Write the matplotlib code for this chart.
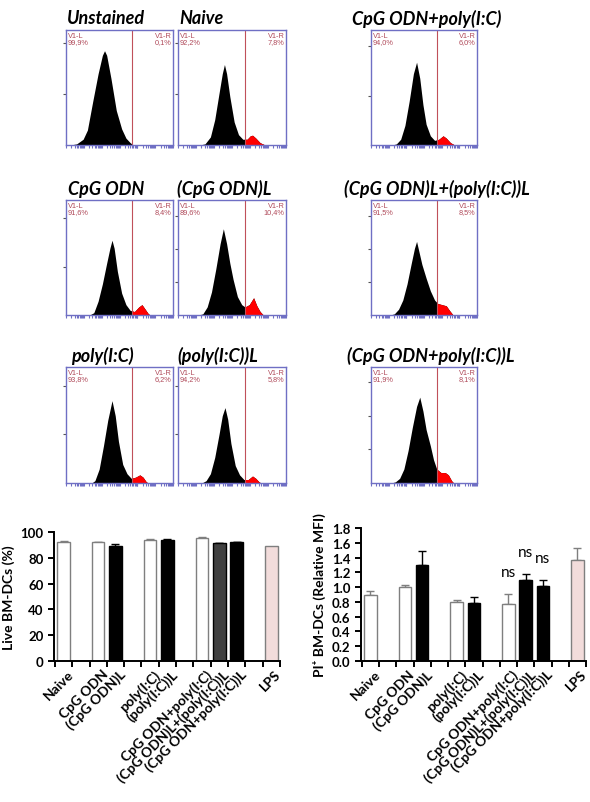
import matplotlib
matplotlib.use('Agg')
import matplotlib.pyplot as plt
from matplotlib.patches import Rectangle
import numpy as np

plt.rcParams['font.family'] = ['Lato', 'DejaVu Sans']

W, H = 590, 803

# flow histograms, envelope points: (x as fraction of the 6-decade axis, height as fraction of axis)
unstained = [(0.04, 0), (0.10, 0.01), (0.16, 0.05), (0.20, 0.13), (0.25, 0.38), (0.30, 0.62), (0.34, 0.78),
             (0.36, 0.82), (0.38, 0.78), (0.42, 0.58), (0.47, 0.30), (0.52, 0.14), (0.56, 0.06), (0.60, 0.02), (0.63, 0)]
naive = [(0.20, 0), (0.25, 0.01), (0.30, 0.07), (0.34, 0.22), (0.38, 0.45), (0.41, 0.62), (0.43, 0.70), (0.45, 0.62),
         (0.48, 0.42), (0.52, 0.20), (0.56, 0.09), (0.60, 0.05), (0.64, 0.05), (0.67, 0.08), (0.69, 0.085),
         (0.72, 0.06), (0.76, 0.02), (0.80, 0.003), (0.83, 0)]
cpg_poly = [(0.20, 0), (0.24, 0.01), (0.28, 0.05), (0.32, 0.17), (0.36, 0.38), (0.40, 0.62), (0.43, 0.72),
            (0.46, 0.58), (0.49, 0.35), (0.52, 0.18), (0.56, 0.08), (0.60, 0.04), (0.64, 0.05), (0.68, 0.08),
            (0.71, 0.06), (0.75, 0.02), (0.79, 0)]
cpg = [(0.22, 0), (0.26, 0.02), (0.30, 0.12), (0.34, 0.27), (0.38, 0.45), (0.41, 0.58), (0.43, 0.65), (0.45, 0.58),
       (0.48, 0.38), (0.52, 0.19), (0.56, 0.09), (0.60, 0.04), (0.64, 0.03), (0.68, 0.07), (0.71, 0.09),
       (0.74, 0.05), (0.77, 0.01), (0.79, 0)]
cpg_l = [(0.19, 0), (0.23, 0.01), (0.27, 0.07), (0.31, 0.20), (0.35, 0.40), (0.39, 0.62), (0.42, 0.75),
         (0.45, 0.62), (0.48, 0.45), (0.51, 0.31), (0.55, 0.16), (0.59, 0.09), (0.62, 0.07), (0.66, 0.09),
         (0.70, 0.15), (0.73, 0.08), (0.76, 0.03), (0.79, 0)]
cpg_l_poly_l = [(0.18, 0), (0.22, 0.01), (0.26, 0.05), (0.30, 0.13), (0.34, 0.27), (0.38, 0.45), (0.41, 0.58),
                (0.43, 0.64), (0.45, 0.56), (0.48, 0.44), (0.52, 0.32), (0.56, 0.21), (0.60, 0.13), (0.63, 0.10),
                (0.67, 0.09), (0.71, 0.08), (0.74, 0.04), (0.77, 0.005), (0.79, 0)]
poly = [(0.24, 0), (0.27, 0.02), (0.31, 0.12), (0.35, 0.32), (0.39, 0.54), (0.43, 0.71), (0.46, 0.58),
        (0.49, 0.36), (0.53, 0.16), (0.57, 0.08), (0.61, 0.04), (0.65, 0.05), (0.69, 0.07), (0.72, 0.05),
        (0.75, 0.01), (0.77, 0)]
poly_l = [(0.22, 0), (0.26, 0.02), (0.30, 0.08), (0.34, 0.22), (0.38, 0.42), (0.41, 0.58), (0.435, 0.65),
          (0.46, 0.55), (0.49, 0.34), (0.53, 0.15), (0.57, 0.07), (0.61, 0.03), (0.65, 0.03), (0.69, 0.06),
          (0.72, 0.04), (0.75, 0.01), (0.77, 0)]
cpg_poly_l = [(0.19, 0), (0.23, 0.01), (0.27, 0.04), (0.31, 0.12), (0.35, 0.28), (0.39, 0.48), (0.43, 0.66),
              (0.46, 0.74), (0.49, 0.62), (0.52, 0.46), (0.56, 0.32), (0.59, 0.20), (0.62, 0.12), (0.66, 0.09),
              (0.70, 0.09), (0.73, 0.07), (0.76, 0.02), (0.78, 0)]

hist_titles = ['Unstained', 'Naive', 'CpG ODN+poly(I:C)',
               'CpG ODN', '(CpG ODN)L', '(CpG ODN)L+(poly(I:C))L',
               'poly(I:C)', '(poly(I:C))L', '(CpG ODN+poly(I:C))L']
hist_data = [unstained, naive, cpg_poly, cpg, cpg_l, cpg_l_poly_l, poly, poly_l, cpg_poly_l]
gate_left = ['99,9%', '92,2%', '94,0%', '91,6%', '89,6%', '91,5%', '93,8%', '94,2%', '91,9%']
gate_right = ['0,1%', '7,8%', '6,0%', '8,4%', '10,4%', '8,5%', '6,2%', '5,8%', '8,1%']
ytick_step = [0.445, 0.445, 0.43, 0.42, 0.286, 0.286, 0.42, 0.42, 0.29]
gate_pos = 0.62

# bar charts
groups = ['Naive', 'CpG ODN', '(CpG ODN)L', 'poly(I:C)', '(poly(I:C))L',
          'CpG ODN+poly(I:C)', '(CpG ODN)L+(poly(I:C))L', '(CpG ODN+poly(I:C))L', 'LPS']
live = [92.5, 92.2, 89.5, 94.0, 93.8, 95.0, 91.2, 92.0, 89.5]
live_err = [0.4, 0.2, 1.0, 0.3, 0.5, 0.8, 0.3, 0.3, 0.0]
pi_mfi = [0.89, 1.00, 1.30, 0.80, 0.79, 0.77, 1.10, 1.02, 1.37]
pi_err = [0.06, 0.03, 0.19, 0.03, 0.07, 0.14, 0.08, 0.08, 0.16]
ns_idx = [5, 6, 7]

slots = [0, 2, 3, 5, 6, 8, 9, 10, 12]
live_colors = ['white', 'white', 'black', 'white', 'black', 'white', '#404040', 'black', '#f2dcdb']
pi_colors = ['white', 'white', 'black', 'white', 'black', 'white', 'black', 'black', '#f2dcdb']

SPINE = '#6f6fc4'
GATE_TXT = '#b04a5a'


def px_axes(fig, l, t, r, b):
    return fig.add_axes([l / W, 1 - b / H, (r - l) / W, (b - t) / H])


def draw_hist(ax, pts, step, lpct, rpct):
    x = np.array([p[0] for p in pts])
    y = np.array([p[1] for p in pts])
    ax.fill_between(x, 0, y, color='black', lw=0)
    red = ax.fill_between(x, 0, y, color='#ff0000', lw=0)
    clip = Rectangle((gate_pos, 0), 1 - gate_pos, 1, transform=ax.transData)
    red.set_clip_path(clip)
    ax.axvline(gate_pos, color='#c0505a', lw=0.8)
    ax.set_xlim(0, 1)
    ax.set_ylim(0, 1)
    xt = [(d + np.log10(k)) / 6 for d in range(6) for k in range(1, 10)] + [1.0]
    ax.set_xticks(xt)
    ax.set_xticklabels([])
    yt = [step * i for i in range(1, 4) if step * i < 0.97]
    ax.set_yticks(yt)
    ax.set_yticklabels([])
    ax.tick_params(axis='x', colors=SPINE, length=2.5, width=0.8, direction='out')
    ax.tick_params(axis='y', colors='#555555', length=2, width=0.8, direction='out')
    for s in ax.spines.values():
        s.set_color(SPINE)
        s.set_linewidth(1.0)
    ax.text(0.015, 0.985, 'V1-L\n' + lpct, transform=ax.transAxes, ha='left', va='top',
            fontsize=5.3, color=GATE_TXT, linespacing=0.9, family=['Liberation Sans', 'DejaVu Sans'])
    ax.text(0.985, 0.985, 'V1-R\n' + rpct, transform=ax.transAxes, ha='right', va='top',
            fontsize=5.3, color=GATE_TXT, linespacing=0.9, family=['Liberation Sans', 'DejaVu Sans'])


fig = plt.figure(figsize=(W / 100, H / 100), dpi=100)

rows = [(31, 146), (201, 316), (368, 484)]
cols = [(66, 173), (178, 286), (371, 477)]
title_x = [[67, 179, 352], [68, 177, 344], [71, 177, 347]]

for i in range(9):
    r, c = divmod(i, 3)
    t, b = rows[r]
    l, rr = cols[c]
    ax = px_axes(fig, l, t, rr, b)
    draw_hist(ax, hist_data[i], ytick_step[i], gate_left[i], gate_right[i])
    fig.text(title_x[r][c] / W, 1 - (t - 12) / H, hist_titles[i], ha='left', va='center',
             fontsize=13, fontweight='bold', fontstyle='italic')


def bar_panel(ax, vals, errs, colors, ymax, ystep, ylabel):
    for x, v, e, col in zip(slots, vals, errs, colors):
        edge = 'black' if col in ('black', '#404040') else '#7f7f7f'
        ax.bar(x, v, width=0.72, color=col, edgecolor=edge, lw=1.0, zorder=2)
        if e > 0:
            ax.errorbar(x, v, yerr=[[0], [e]], fmt='none', ecolor=edge, elinewidth=1.0,
                        capsize=3, capthick=1.0, zorder=1)
    ax.set_xlim(-0.55, 12.5)
    ax.set_ylim(0, ymax)
    ax.set_yticks(np.arange(0, ymax + ystep / 2, ystep))
    ax.set_xticks(np.arange(-0.5, 13, 1.0))
    ax.set_xticklabels([])
    ax.spines['top'].set_visible(False)
    ax.spines['right'].set_visible(False)
    for s in ('left', 'bottom'):
        ax.spines[s].set_linewidth(1.4)
    ax.tick_params(axis='both', length=4, width=1.4, direction='out', labelsize=9.5)
    ax.set_ylabel(ylabel, fontsize=10, fontweight='bold', labelpad=4)
    for x, g in zip(slots, groups):
        ax.text(x + 0.2, -ymax * 0.05, g, rotation=45, ha='right', va='top', rotation_mode='anchor',
                fontsize=10, fontweight='bold')


ax1 = px_axes(fig, 54, 533, 280, 662)
bar_panel(ax1, live, live_err, live_colors, 100, 20, 'Live BM-DCs (%)')
for lab in ax1.get_yticklabels():
    lab.set_fontweight('bold')

ax2 = px_axes(fig, 361, 529, 586, 662)
bar_panel(ax2, pi_mfi, pi_err, pi_colors, 1.8, 0.2, 'PI⁺ BM-DCs (Relative MFI)')
ax2.yaxis.set_major_formatter(matplotlib.ticker.FormatStrFormatter('%.1f'))
for lab in ax2.get_yticklabels():
    lab.set_fontweight('bold')
for i in ns_idx:
    ax2.text(slots[i], pi_mfi[i] + pi_err[i] + 0.2, 'ns', ha='center', va='bottom', fontsize=11)

fig.savefig('out.png', dpi=100)
